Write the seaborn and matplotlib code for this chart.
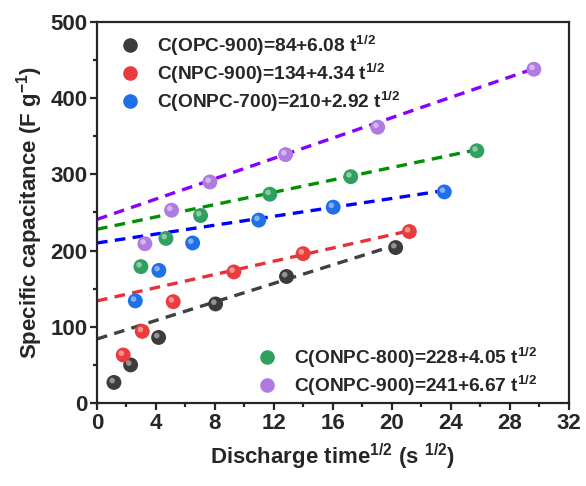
import numpy as np
import pandas as pd
import matplotlib
matplotlib.use("Agg")
import matplotlib.pyplot as plt
import matplotlib.transforms as mtransforms
import seaborn as sns
from matplotlib.ticker import MultipleLocator
from matplotlib.lines import Line2D

# ---- data ----
names = ["OPC-900", "NPC-900", "ONPC-700", "ONPC-800", "ONPC-900"]
intercepts = [84, 134, 210, 228, 241]
slopes = [6.08, 4.34, 2.92, 4.05, 6.67]

x_opc = [1.15, 2.28, 4.18, 8.05, 12.86, 20.27]
y_opc = [27, 50, 86, 130, 166, 204]
x_npc = [1.78, 3.07, 5.17, 9.29, 13.99, 21.2]
y_npc = [63, 94, 133, 172, 196, 225]
x_onpc7 = [2.6, 4.2, 6.49, 10.98, 16.03, 23.57]
y_onpc7 = [134, 174, 210, 240, 257, 277]
x_onpc8 = [2.98, 4.68, 7.03, 11.73, 17.22, 25.78]
y_onpc8 = [179, 216, 246, 274, 297, 331]
x_onpc9 = [3.25, 5.06, 7.66, 12.8, 19.05, 29.65]
y_onpc9 = [209, 253, 290, 326, 362, 438]

xs = [x_opc, x_npc, x_onpc7, x_onpc8, x_onpc9]
ys = [y_opc, y_npc, y_onpc7, y_onpc8, y_onpc9]

marker_colors = ["#3c3c3c", "#ea3c3c", "#1f6fe6", "#2fa060", "#b07be0"]
line_colors = ["#404040", "#e8303a", "#0000ff", "#009000", "#8800ff"]

# ---- style ----
sns.set_style("ticks")
plt.rcParams["font.family"] = ["Liberation Sans", "DejaVu Sans"]
plt.rcParams["font.weight"] = "bold"
plt.rcParams["mathtext.fontset"] = "custom"
plt.rcParams["mathtext.rm"] = "Liberation Sans:bold"
plt.rcParams["mathtext.bf"] = "Liberation Sans:bold"
plt.rcParams["mathtext.it"] = "Liberation Sans:bold"
plt.rcParams["mathtext.default"] = "bf"

fig = plt.figure(figsize=(5.86, 4.86), dpi=100)
ax = fig.add_axes([97/586, 1-403/486, (568.5-97)/586, (403-22)/486])

rows = []
for n, xv, yv in zip(names, xs, ys):
    for a, b in zip(xv, yv):
        rows.append({"name": n, "x": a, "y": b})
df = pd.DataFrame(rows)

hl_trans = mtransforms.offset_copy(ax.transData, fig=fig, x=-1.8, y=1.8, units="dots")

handles = []
for i, n in enumerate(names):
    xmax = max(xs[i])
    lx = np.array([0.0, xmax])
    ly = intercepts[i] + slopes[i] * lx
    ax.plot(lx, ly, color=line_colors[i], lw=2.4, ls=(0, (3.2, 2.2)), zorder=2)
    sub = df[df["name"] == n]
    sns.scatterplot(data=sub, x="x", y="y", ax=ax, color=marker_colors[i],
                    s=115, edgecolor="none", zorder=3, legend=False)
    # highlight for glossy look
    ax.scatter(sub["x"], sub["y"], s=16, color="white", alpha=0.45,
               edgecolor="none", zorder=4, transform=hl_trans)
    lab = f"C({n})={intercepts[i]}+{slopes[i]:.2f} t$^{{1/2}}$"
    handles.append(Line2D([], [], marker="o", ls="none", markersize=10.5,
                          markerfacecolor=marker_colors[i], markeredgecolor="none",
                          label=lab))

ax.set_xlim(0, 32)
ax.set_ylim(0, 500)
ax.xaxis.set_major_locator(MultipleLocator(4))
ax.xaxis.set_minor_locator(MultipleLocator(2))
ax.yaxis.set_major_locator(MultipleLocator(100))
ax.yaxis.set_minor_locator(MultipleLocator(50))

for s in ax.spines.values():
    s.set_linewidth(1.6)
    s.set_visible(True)
ax.tick_params(which="major", direction="out", length=5, width=1.6,
               labelsize=16, pad=2, top=False, right=False)
ax.tick_params(which="minor", direction="out", length=3, width=1.6,
               top=False, right=False)
for lbl in ax.get_xticklabels() + ax.get_yticklabels():
    lbl.set_fontweight("bold")

ax.set_xlabel("Discharge time$^{1/2}$ (s $^{1/2}$)", fontsize=16, fontweight="bold", labelpad=6)
ax.set_ylabel("Specific capacitance (F g$^{-1}$)", fontsize=16, fontweight="bold", labelpad=4)

leg_kw = dict(frameon=False, prop={"size": 13.8, "weight": "bold"},
              handletextpad=0.8, labelspacing=0.22, borderaxespad=0.0,
              borderpad=0.0, handlelength=1.2)
leg1 = ax.legend(handles=handles[:3], loc="upper left",
                 bbox_to_anchor=(0.045, 0.970), **leg_kw)
ax.add_artist(leg1)
ax.legend(handles=handles[3:], loc="lower left",
          bbox_to_anchor=(0.337, 0.013), **leg_kw)

fig.savefig("out.png", dpi=100)
